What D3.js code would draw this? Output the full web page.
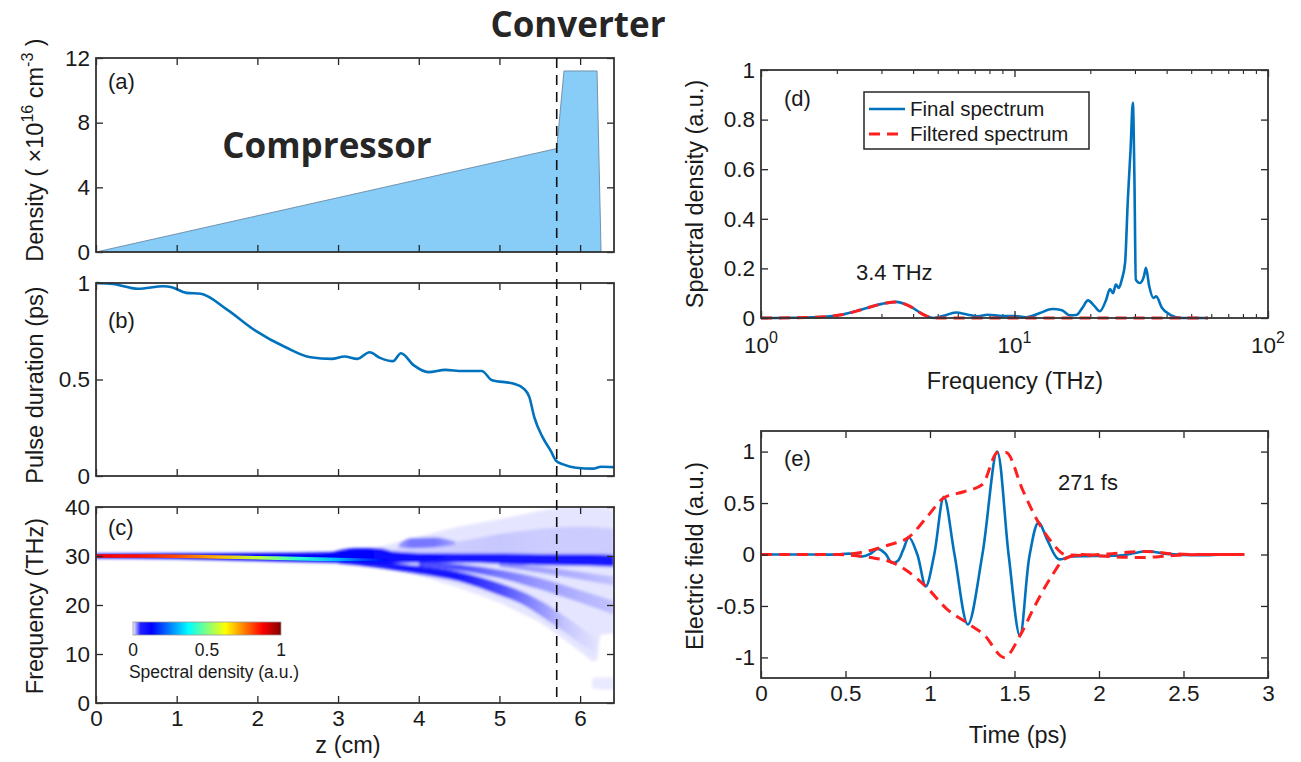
<!DOCTYPE html>
<html>
<head>
<meta charset="utf-8">
<title>Compressor / converter</title>
<script src="https://cdn.jsdelivr.net/npm/d3@7"></script>
<style>
    body { margin: 0; background: #fff; }
    svg text { font-family: "Liberation Sans", Arial, sans-serif; fill: #1a1a1a; }
    .tick line { stroke: #262626; stroke-width: 1.3; }
    .tick text { font-size: 22.5px; }
    .frame { fill: none; stroke: #333; stroke-width: 1.8; }
    .title { font-size: 23.5px; }
    .big { font-family: "Open Sans", sans-serif !important; font-weight: 700; font-size: 35px; fill: #262626 !important; }
</style>
</head>
<body>
<svg id="fig" width="1301" height="762"></svg>
<script>
// ---- data ----

// (a) plasma density profile
var densZ = [0, 5.71, 5.80, 6.21, 6.26];
var densN = [0, 6.4, 11.2, 11.2, 0];
var convZ = 5.71;

// (b) pulse duration vs z
var durZ = [0, 0.21, 0.52, 0.835, 0.94, 1.12, 1.30, 1.62, 1.98, 2.35, 2.66, 2.92, 3.08, 3.24, 3.39, 3.52,
            3.68, 3.78, 3.94, 4.12, 4.33, 4.54, 4.78, 4.91, 5.17, 5.30, 5.37, 5.43, 5.53, 5.64, 5.70,
            5.79, 5.95, 6.16, 6.26, 6.42];
var durPs = [1.0, 0.995, 0.97, 0.983, 0.978, 0.949, 0.944, 0.863, 0.752, 0.667, 0.615, 0.607, 0.619, 0.607, 0.641, 0.612,
             0.595, 0.636, 0.573, 0.538, 0.55, 0.544, 0.544, 0.496, 0.479, 0.453, 0.41, 0.308, 0.205, 0.128, 0.08,
             0.06, 0.043, 0.038, 0.048, 0.046];

// (c) spectrogram, drawn as bands: z knots, lower/upper frequency (THz), spectral density
var haloZ  = [2.6, 3.0, 3.5, 4.0, 4.5, 5.0, 5.5, 5.8, 6.0, 6.15, 6.21, 6.25, 6.42];
var haloLo = [29.3, 29.0, 28.0, 26.0, 23.5, 20.5, 16.5, 13.0, 10.5, 8.5, 8.8, 14.0, 14.2];
var haloHi = [30.6, 30.8, 31.8, 34.0, 36.0, 37.5, 39.2, 40, 40, 40, 40, 40, 39.5];
var haloV  = [0.003, 0.004, 0.004, 0.004, 0.004, 0.004, 0.004, 0.004, 0.004, 0.004, 0.004, 0.004, 0.004];

var upZ  = [3.6, 4.0, 4.5, 5.0, 5.5, 6.0, 6.42];
var upLo = [30.0, 30.0, 30.0, 30.0, 30.0, 30.0, 30.0];
var upHi = [31.0, 32.5, 33.0, 34.5, 35.5, 36.0, 35.5];
var upV  = [0.006, 0.009, 0.01, 0.011, 0.01, 0.01, 0.01];

var mainZ  = [0, 1, 2, 3, 3.5, 4, 4.5, 5, 5.5, 6, 6.42];
var mainLo = [29.55, 29.4, 29.0, 28.6, 28.4, 28.6, 28.6, 28.4, 28.1, 28.0, 27.8];
var mainHi = [30.45, 30.55, 30.6, 30.8, 31.0, 30.6, 30.5, 30.5, 30.4, 30.4, 30.2];
var mainV  = [0.12, 0.12, 0.12, 0.12, 0.11, 0.09, 0.085, 0.08, 0.08, 0.08, 0.08];

var coreZ  = [0, 0.5, 1.0, 1.5, 2.0, 2.5, 3.0, 3.3, 3.6];
var coreLo = [29.65, 29.65, 29.6, 29.45, 29.3, 29.1, 28.95, 28.95, 29.0];
var coreHi = [30.35, 30.35, 30.3, 30.15, 30.0, 29.85, 29.65, 29.55, 29.45];
var coreV  = [0.88, 0.86, 0.8, 0.7, 0.56, 0.42, 0.3, 0.2, 0.12];

var blobAZ  = [2.9, 3.2, 3.5, 3.7];
var blobALo = [30.2, 30.2, 30.2, 30.2];
var blobAHi = [30.6, 31.6, 31.6, 30.8];
var blobAV  = [0.08, 0.12, 0.12, 0.08];

var blobBZ  = [3.75, 3.9, 4.2, 4.45];
var blobBLo = [31.8, 31.6, 31.8, 32.3];
var blobBHi = [32.4, 33.6, 33.8, 33.0];
var blobBV  = [0.02, 0.03, 0.03, 0.02];

var br1Z  = [3.0, 3.5, 4.0, 4.5, 5.0, 5.3, 5.6, 5.8, 6.0, 6.2];
var br1Lo = [28.5, 27.6, 26.3, 24.8, 22.0, 20.0, 16.8, 14.6, 12.2, 10.0];
var br1Hi = [29.2, 28.8, 28.0, 26.8, 24.5, 22.6, 20.0, 17.8, 15.5, 13.0];
var br1V  = [0.07, 0.08, 0.08, 0.07, 0.04, 0.03, 0.02, 0.012, 0.008, 0.005];

var br2Z  = [4.0, 4.5, 5.0, 5.5, 6.0, 6.42];
var br2Lo = [28.0, 27.0, 25.5, 23.2, 20.5, 18.0];
var br2Hi = [28.8, 28.3, 27.2, 25.5, 23.0, 20.8];
var br2V  = [0.04, 0.04, 0.03, 0.022, 0.016, 0.012];

var br3Z  = [5.0, 5.5, 6.0, 6.42];
var br3Lo = [27.8, 26.6, 25.2, 24.0];
var br3Hi = [28.6, 27.8, 26.8, 25.8];
var br3V  = [0.025, 0.02, 0.016, 0.012];

var lowZ  = [6.15, 6.25, 6.42];
var lowLo = [3.0, 2.8, 2.7];
var lowHi = [5.0, 5.2, 5.2];
var lowV  = [0.003, 0.003, 0.003];

// colormap (jet with a white low end)
var cmapStops  = [0, 0.05, 0.125, 0.375, 0.625, 0.875, 1];
var cmapColors = ["#f6f6ff", "#2222ff", "#0000ff", "#00ffff", "#ffff00", "#ff0000", "#800000"];
var cbarTicks = [0, 0.5, 1];

// (d) spectra
var specF = [1, 1.5, 1.87, 2.08, 2.5, 3.0, 3.4, 3.87, 4.39, 4.81, 5.26, 5.87, 6.55, 7.17, 7.85, 8.92, 9.95,
             11.1, 12.6, 14.1, 15.4, 16.5, 17.5, 18.5, 19.5, 20.6, 21.7, 23.0, 23.8, 24.5, 25.1, 25.8,
             26.5, 27.3, 28.0, 28.7, 29.3, 29.7, 30.1, 31.2, 32.4, 33.0, 34.0, 35.3, 36.2, 38.2, 41.1, 45.8, 58];
var specFinal = [0, 0.002, 0.007, 0.013, 0.034, 0.057, 0.065, 0.047, 0.013, 0.0, 0.009, 0.022, 0.013, 0.007, 0.013, 0.008, 0.008,
                 0.003, 0.02, 0.036, 0.031, 0.011, 0.012, 0.04, 0.071, 0.05, 0.027, 0.074, 0.117, 0.10, 0.135, 0.121,
                 0.155, 0.222, 0.478, 0.68, 0.868, 0.585, 0.155, 0.141, 0.168, 0.202, 0.128, 0.081, 0.087, 0.04, 0.013, 0.0, 0.0];
var filtF = [1, 1.5, 1.87, 2.08, 2.5, 3.0, 3.4, 3.87, 4.39, 4.81, 58];
var filtVal = [0, 0.002, 0.007, 0.013, 0.034, 0.057, 0.065, 0.047, 0.013, 0.0, 0.0];
var specTicksX = [1, 10, 100];
var specTicksY = [0, 0.2, 0.4, 0.6, 0.8, 1];

// (e) electric field and envelope
var fieldT = [0, 0.3, 0.45, 0.53, 0.6, 0.65, 0.69, 0.735, 0.775, 0.81, 0.84, 0.876, 0.925, 0.975, 1.025, 1.082,
              1.145, 1.224, 1.31, 1.397, 1.465, 1.532, 1.59, 1.642, 1.70, 1.76, 1.83, 1.97, 2.14, 2.28, 2.4,
              2.59, 2.73, 2.86];
var fieldE = [0, 0, 0, 0.008, -0.02, 0.01, 0.055, 0.01, -0.08, -0.06, 0.04, 0.165, 0.0, -0.31, 0.0, 0.56,
              0.0, -0.68, 0.0, 1.0, 0.0, -0.79, 0.0, 0.31, 0.12, -0.045, -0.02, -0.015, -0.008, 0.032, 0.006,
              -0.008, 0.0, 0.0];
var envUpT = [0, 0.45, 0.55, 0.65, 0.75, 0.876, 0.98, 1.082, 1.2, 1.31, 1.40, 1.45, 1.55, 1.642, 1.72, 1.80,
              1.9, 2.05, 2.28, 2.45, 2.6, 2.86];
var envUp  = [0, 0, 0.01, 0.04, 0.09, 0.17, 0.36, 0.55, 0.61, 0.68, 0.99, 0.99, 0.62, 0.31, 0.12, 0.0,
              -0.01, 0.005, 0.03, 0.005, 0.0, 0];
var envLoT = [0, 0.45, 0.55, 0.65, 0.78, 0.975, 1.1, 1.224, 1.32, 1.44, 1.532, 1.62, 1.72, 1.80, 1.9, 2.02,
              2.25, 2.44, 2.6, 2.86];
var envLo  = [0, 0, -0.01, -0.03, -0.08, -0.31, -0.53, -0.67, -0.78, -1.0, -0.79, -0.5, -0.21, -0.04, 0.0, -0.015,
              -0.03, -0.01, 0, 0];
var fieldTicksX = [0, 0.5, 1, 1.5, 2, 2.5, 3];
var fieldTicksY = [-1, -0.5, 0, 0.5, 1];

var zTicks = [0, 1, 2, 3, 4, 5, 6];

// ---- drawing ----
var blue = '#0072BD', red = '#FF1F1F';
var svg = d3.select('#fig');

var xZ = d3.scaleLinear().domain([0, 6.42]).range([96, 614]);
var yA = d3.scaleLinear().domain([0, 12]).range([252, 58]);
var yB = d3.scaleLinear().domain([0, 1]).range([476, 283]);
var yC = d3.scaleLinear().domain([0, 40]).range([703, 507]);
var xD = d3.scaleLog().domain([1, 100]).range([761, 1268]);
var yD = d3.scaleLinear().domain([0, 1]).range([318, 70]);
var xE = d3.scaleLinear().domain([0, 3]).range([761, 1268]);
var yE = d3.scaleLinear().domain([-1.2, 1.2]).range([678, 431]);

var cmap = d3.scaleLinear().domain(cmapStops).range(cmapColors).interpolate(d3.interpolateRgb).clamp(true);
var fmt = function (d) { return String(d); };

// box with inside ticks on all four sides
var frame = function (x, y, xt, yt, xf, yf) {
    var g = svg.append('g');
    var x0 = x.range()[0], x1 = x.range()[1], y0 = y.range()[0], y1 = y.range()[1];
    g.append('g').attr('transform', 'translate(0,' + y0 + ')')
        .call(d3.axisBottom(x).tickValues(xt).tickSizeInner(-7).tickSizeOuter(0).tickPadding(7).tickFormat(xf || ''));
    g.append('g').attr('transform', 'translate(0,' + y1 + ')')
        .call(d3.axisTop(x).tickValues(xt).tickSizeInner(-7).tickSizeOuter(0).tickFormat(''));
    g.append('g').attr('transform', 'translate(' + x0 + ',0)')
        .call(d3.axisLeft(y).tickValues(yt).tickSizeInner(-7).tickSizeOuter(0).tickPadding(6).tickFormat(yf || ''));
    g.append('g').attr('transform', 'translate(' + x1 + ',0)')
        .call(d3.axisRight(y).tickValues(yt).tickSizeInner(-7).tickSizeOuter(0).tickFormat(''));
    g.selectAll('.domain').remove();
    g.selectAll('.tick text').attr('fill', '#1a1a1a');
    g.append('rect').attr('class', 'frame')
        .attr('x', x0).attr('y', y1).attr('width', x1 - x0).attr('height', y0 - y1);
    return g;
};

var ytitle = function (x, y, txt) {
    return svg.append('text').attr('class', 'title').attr('text-anchor', 'middle')
        .attr('transform', 'translate(' + x + ',' + y + ') rotate(-90)').text(txt);
};
var xtitle = function (x, y, txt) {
    return svg.append('text').attr('class', 'title').attr('text-anchor', 'middle')
        .attr('x', x).attr('y', y).text(txt);
};
var label = function (x, y, txt, size) {
    return svg.append('text').attr('x', x).attr('y', y).style('font-size', (size || 22) + 'px').text(txt);
};

var defs = svg.append('defs');
defs.append('clipPath').attr('id', 'clipC').append('rect')
    .attr('x', xZ.range()[0]).attr('y', yC.range()[1])
    .attr('width', xZ.range()[1] - xZ.range()[0]).attr('height', yC.range()[0] - yC.range()[1]);
defs.append('filter').attr('id', 'soft').attr('x', '-5%').attr('y', '-20%').attr('width', '110%').attr('height', '140%')
    .append('feGaussianBlur').attr('stdDeviation', 1.4);
defs.append('filter').attr('id', 'softer').attr('x', '-5%').attr('y', '-50%').attr('width', '110%').attr('height', '200%')
    .append('feGaussianBlur').attr('stdDeviation', 0.6);

// ---------- (a) ----------
svg.append('path')
    .datum(d3.range(densZ.length))
    .attr('fill', '#88CCF8').attr('stroke', '#5f7f99').attr('stroke-width', 0.8)
    .attr('d', d3.area().x(function (i) { return xZ(densZ[i]); })
        .y0(yA(0)).y1(function (i) { return yA(densN[i]); }));
frame(xZ, yA, zTicks, [0, 4, 8, 12], null, fmt);
label(108, 89, '(a)');
svg.append('text').attr('class', 'big').attr('x', 327).attr('y', 158).attr('text-anchor', 'middle').text('Compressor');
svg.append('text').attr('class', 'big').attr('x', 578).attr('y', 37).attr('text-anchor', 'middle').text('Converter');
var dl = svg.append('text').attr('class', 'title').attr('text-anchor', 'middle')
    .attr('transform', 'translate(43,150) rotate(-90)');
dl.append('tspan').text('Density ( \u00d710');
dl.append('tspan').attr('dy', -10).style('font-size', '16px').text('16');
dl.append('tspan').attr('dy', 10).text(' cm');
dl.append('tspan').attr('dy', -10).style('font-size', '16px').text('-3');
dl.append('tspan').attr('dy', 10).text(' )');

// ---------- (b) ----------
svg.append('path')
    .datum(d3.range(durZ.length))
    .attr('fill', 'none').attr('stroke', blue).attr('stroke-width', 2.6)
    .attr('d', d3.line().x(function (i) { return xZ(durZ[i]); }).y(function (i) { return yB(durPs[i]); })
        .curve(d3.curveMonotoneX));
frame(xZ, yB, zTicks, [0, 0.5, 1], null, fmt);
label(108, 328, '(b)');
ytitle(43, 385, 'Pulse duration (ps)');

// ---------- (c) ----------
var bands = [
    {z: haloZ, lo: haloLo, hi: haloHi, v: haloV, curve: d3.curveLinear},
    {z: lowZ, lo: lowLo, hi: lowHi, v: lowV},
    {z: upZ, lo: upLo, hi: upHi, v: upV},
    {z: br3Z, lo: br3Lo, hi: br3Hi, v: br3V},
    {z: br2Z, lo: br2Lo, hi: br2Hi, v: br2V},
    {z: br1Z, lo: br1Lo, hi: br1Hi, v: br1V},
    {z: blobBZ, lo: blobBLo, hi: blobBHi, v: blobBV},
    {z: blobAZ, lo: blobALo, hi: blobAHi, v: blobAV},
    {z: mainZ, lo: mainLo, hi: mainHi, v: mainV},
    {z: coreZ, lo: coreLo, hi: coreHi, v: coreV, sharp: true}
];
var gClip = svg.append('g').attr('clip-path', 'url(#clipC)');
var gHeat = gClip.append('g').attr('filter', 'url(#soft)');
var gCore = gClip.append('g').attr('filter', 'url(#softer)');
bands.forEach(function (b, k) {
    var n = b.z.length, z0 = b.z[0], z1 = b.z[n - 1];
    var grad = defs.append('linearGradient').attr('id', 'band' + k)
        .attr('gradientUnits', 'userSpaceOnUse')
        .attr('x1', xZ(z0)).attr('x2', xZ(z1)).attr('y1', 0).attr('y2', 0);
    grad.selectAll('stop').data(d3.range(n)).enter().append('stop')
        .attr('offset', function (i) { return (b.z[i] - z0) / (z1 - z0); })
        .attr('stop-color', function (i) { return cmap(b.v[i]); });
    (b.sharp ? gCore : gHeat).append('path')
        .datum(d3.range(n))
        .attr('fill', 'url(#band' + k + ')')
        .attr('d', d3.area().x(function (i) { return xZ(b.z[i]); })
            .y0(function (i) { return yC(b.lo[i]); })
            .y1(function (i) { return yC(b.hi[i]); })
            .curve(b.curve || d3.curveMonotoneX));
});
frame(xZ, yC, zTicks, [0, 10, 20, 30, 40], fmt, fmt);
label(108, 535, '(c)');
ytitle(43, 606, 'Frequency (THz)');
xtitle(348, 753, 'z (cm)');

// colorbar
var cbX = d3.scaleLinear().domain([0, 1]).range([133, 281]);
var cg = defs.append('linearGradient').attr('id', 'cbar');
cg.selectAll('stop').data(cmapStops).enter().append('stop')
    .attr('offset', function (d) { return d; })
    .attr('stop-color', function (d, i) { return cmapColors[i]; });
svg.append('rect').attr('x', cbX(0)).attr('y', 622).attr('width', cbX(1) - cbX(0)).attr('height', 13)
    .attr('fill', 'url(#cbar)').attr('stroke', '#999').attr('stroke-width', 0.8);
svg.selectAll('text.cbt').data(cbarTicks).enter().append('text').attr('class', 'cbt')
    .attr('x', function (d) { return cbX(d); }).attr('y', 656).attr('text-anchor', 'middle')
    .style('font-size', '17.5px').text(fmt);
svg.append('text').attr('x', 214).attr('y', 678).attr('text-anchor', 'middle').style('font-size', '17.5px')
    .text('Spectral density (a.u.)');

// converter entrance
svg.append('line').attr('x1', xZ(convZ)).attr('x2', xZ(convZ)).attr('y1', yA.range()[1]).attr('y2', yC.range()[0])
    .attr('stroke', '#111').attr('stroke-width', 1.6).attr('stroke-dasharray', '10,7');

// ---------- (d) ----------
var minorD = [];
[1, 10].forEach(function (dec) { d3.range(2, 10).forEach(function (m) { minorD.push(dec * m); }); });
svg.append('g').selectAll('line').data(minorD).enter().append('line')
    .attr('x1', xD).attr('x2', xD).attr('y1', yD.range()[0]).attr('y2', yD.range()[0] - 4)
    .attr('stroke', '#262626').attr('stroke-width', 1.1);
svg.append('g').selectAll('line').data(minorD).enter().append('line')
    .attr('x1', xD).attr('x2', xD).attr('y1', yD.range()[1]).attr('y2', yD.range()[1] + 4)
    .attr('stroke', '#262626').attr('stroke-width', 1.1);
svg.append('path')
    .datum(d3.range(specF.length))
    .attr('fill', 'none').attr('stroke', blue).attr('stroke-width', 2.6)
    .attr('d', d3.line().x(function (i) { return xD(specF[i]); }).y(function (i) { return yD(specFinal[i]); })
        .curve(d3.curveMonotoneX));
svg.append('path')
    .datum(d3.range(filtF.length))
    .attr('fill', 'none').attr('stroke', red).attr('stroke-width', 3).attr('stroke-dasharray', '11,7')
    .attr('d', d3.line().x(function (i) { return xD(filtF[i]); }).y(function (i) { return yD(filtVal[i]); })
        .curve(d3.curveMonotoneX));
frame(xD, yD, specTicksX, specTicksY, null, fmt);
var dx = svg.append('g').selectAll('text').data(specTicksX).enter().append('text')
    .attr('x', xD).attr('y', 353).attr('text-anchor', 'middle').style('font-size', '22.5px');
dx.append('tspan').text('10');
dx.append('tspan').attr('dy', -10).style('font-size', '16px').text(function (d) { return Math.round(Math.log10(d)); });
label(784, 106, '(d)');
label(856, 280, '3.4 THz');
ytitle(703, 194, 'Spectral density (a.u.)');
xtitle(1015, 389, 'Frequency (THz)');

// legend
var lg = svg.append('g');
lg.append('rect').attr('x', 864).attr('y', 92).attr('width', 225).attr('height', 57)
    .attr('fill', '#fff').attr('stroke', '#262626').attr('stroke-width', 1.5);
lg.append('line').attr('x1', 869).attr('x2', 905).attr('y1', 109).attr('y2', 109)
    .attr('stroke', blue).attr('stroke-width', 2.6);
lg.append('line').attr('x1', 869).attr('x2', 905).attr('y1', 134).attr('y2', 134)
    .attr('stroke', red).attr('stroke-width', 3).attr('stroke-dasharray', '11,7');
lg.append('text').attr('x', 910).attr('y', 116).style('font-size', '20.5px').text('Final spectrum');
lg.append('text').attr('x', 910).attr('y', 141).style('font-size', '20.5px').text('Filtered spectrum');

// ---------- (e) ----------
svg.append('path')
    .datum(d3.range(fieldT.length))
    .attr('fill', 'none').attr('stroke', blue).attr('stroke-width', 2.6)
    .attr('d', d3.line().x(function (i) { return xE(fieldT[i]); }).y(function (i) { return yE(fieldE[i]); })
        .curve(d3.curveCatmullRom));
[[envUpT, envUp], [envLoT, envLo]].forEach(function (s) {
    svg.append('path')
        .datum(d3.range(s[0].length))
        .attr('fill', 'none').attr('stroke', red).attr('stroke-width', 3).attr('stroke-dasharray', '11,7')
        .attr('d', d3.line().x(function (i) { return xE(s[0][i]); }).y(function (i) { return yE(s[1][i]); })
            .curve(d3.curveMonotoneX));
});
frame(xE, yE, fieldTicksX, fieldTicksY, fmt, fmt);
label(784, 466, '(e)');
label(1058, 490, '271 fs');
ytitle(703, 556, 'Electric field (a.u.)');
xtitle(1018, 743, 'Time (ps)');
</script>
</body>
</html>
